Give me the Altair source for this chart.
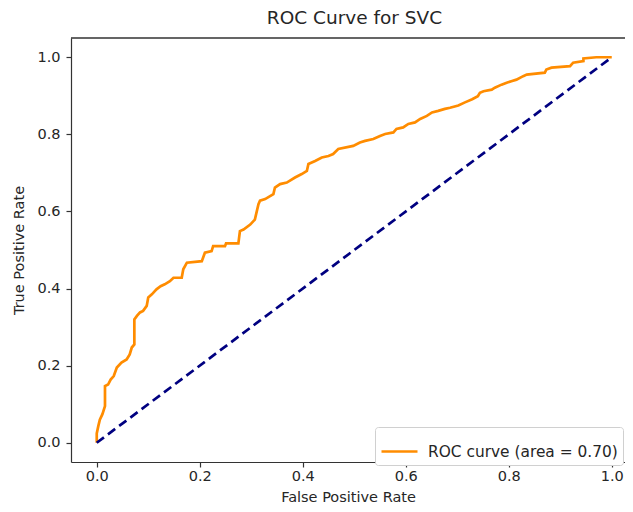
import altair as alt
import pandas as pd

# ROC curve points
fpr = [0.000, 0.000, 0.003, 0.006, 0.011, 0.016, 0.016, 0.022, 0.027, 0.033,
       0.039, 0.048, 0.058, 0.064, 0.068, 0.073, 0.073, 0.078, 0.084, 0.090,
       0.097, 0.100, 0.107, 0.116, 0.124, 0.132, 0.142, 0.149, 0.165, 0.168,
       0.175, 0.204, 0.210, 0.223, 0.226, 0.249, 0.251, 0.275, 0.278, 0.285,
       0.298, 0.307, 0.314, 0.317, 0.327, 0.343, 0.346, 0.356, 0.369, 0.385,
       0.398, 0.408, 0.411, 0.424, 0.437, 0.450, 0.459, 0.469, 0.498, 0.511,
       0.521, 0.537, 0.550, 0.560, 0.576, 0.582, 0.595, 0.605, 0.618, 0.628,
       0.641, 0.651, 0.663, 0.676, 0.686, 0.702, 0.715, 0.729, 0.740, 0.744,
       0.751, 0.767, 0.773, 0.786, 0.796, 0.805, 0.815, 0.828, 0.835, 0.870,
       0.873, 0.883, 0.919, 0.925, 0.945, 0.945, 0.970, 1.000]
tpr = [0.000, 0.024, 0.043, 0.060, 0.074, 0.095, 0.147, 0.151, 0.164, 0.173,
       0.195, 0.208, 0.216, 0.229, 0.247, 0.255, 0.320, 0.329, 0.338, 0.342,
       0.355, 0.377, 0.385, 0.398, 0.406, 0.411, 0.419, 0.428, 0.428, 0.450,
       0.467, 0.471, 0.493, 0.497, 0.510, 0.510, 0.517, 0.517, 0.549, 0.553,
       0.566, 0.579, 0.619, 0.628, 0.632, 0.645, 0.662, 0.671, 0.675, 0.688,
       0.697, 0.705, 0.723, 0.731, 0.740, 0.744, 0.749, 0.762, 0.770, 0.779,
       0.783, 0.788, 0.796, 0.801, 0.805, 0.814, 0.818, 0.827, 0.831, 0.840,
       0.848, 0.857, 0.861, 0.866, 0.869, 0.875, 0.883, 0.891, 0.899, 0.908,
       0.912, 0.916, 0.921, 0.929, 0.934, 0.938, 0.942, 0.951, 0.955, 0.960,
       0.968, 0.973, 0.977, 0.986, 0.990, 0.997, 1.000, 1.000]
series_label = "ROC curve (area = 0.70)"
diag_x = [0.0, 1.0]
diag_y = [0.0, 1.0]
tick_values = [0.0, 0.2, 0.4, 0.6, 0.8, 1.0]

roc = pd.DataFrame({"fpr": fpr, "tpr": tpr, "i": list(range(len(fpr))),
                    "series": [series_label] * len(fpr)})
diag = pd.DataFrame({"fpr": diag_x, "tpr": diag_y})

W, H = 554, 424
FONT = "DejaVu Sans"
TXT = "#262626"

xscale = alt.Scale(domain=[-0.05, -0.05 + W / 515.0], nice=False, zero=False)
yscale = alt.Scale(domain=[-0.05, 1.05], nice=False, zero=False)

xax = alt.Axis(values=tick_values, format=".1f", title="False Positive Rate",
               grid=False, tickSize=5, labelPadding=2, titleY=39,
               titleBaseline="alphabetic")
yax = alt.Axis(values=tick_values, format=".1f", title="True Positive Rate",
               grid=False, tickSize=5, labelPadding=6, titleX=-48,
               titleBaseline="alphabetic")

roc_line = alt.Chart(roc).mark_line(strokeWidth=2.7, strokeJoin="miter").encode(
    x=alt.X("fpr:Q", scale=xscale, axis=xax),
    y=alt.Y("tpr:Q", scale=yscale, axis=yax),
    order="i:Q",
    color=alt.Color("series:N",
                    scale=alt.Scale(range=["#ff8c00"]),
                    legend=alt.Legend(title=None, orient="none",
                                      legendX=304, legendY=389,
                                      symbolType="stroke", symbolSize=1296,
                                      symbolStrokeWidth=2.7,
                                      labelFont=FONT, labelFontSize=15.4,
                                      labelColor=TXT, labelOffset=9,
                                      labelLimit=400, padding=5,
                                      fillColor="white", strokeColor="#d0d0d0",
                                      cornerRadius=3)),
)

diag_line = alt.Chart(diag).mark_line(color="#000080", strokeWidth=2.7,
                                      strokeDash=[9, 5]).encode(
    x=alt.X("fpr:Q", scale=xscale),
    y=alt.Y("tpr:Q", scale=yscale),
)

top_frame = alt.Chart(diag).mark_rule(color="#333333", strokeWidth=1.2).encode(
    x=alt.value(0), x2=alt.value(W), y=alt.value(0)
)

chart = alt.layer(roc_line, diag_line, top_frame).properties(
    width=W, height=H,
    title=alt.TitleParams("ROC Curve for SVC", font=FONT, fontSize=18.5,
                          fontWeight="normal", color=TXT,
                          baseline="alphabetic", offset=10.5, dx=6.5, dy=15.5),
    autosize=alt.AutoSizeParams(type="none"),
    padding={"left": 63, "top": 30, "right": 0, "bottom": 42},
).configure_view(stroke=None).configure_axis(
    labelFont=FONT, labelFontSize=14.5, labelColor=TXT,
    titleFont=FONT, titleFontSize=14.5, titleColor=TXT, titleFontWeight="normal",
    domainColor="#333333", domainWidth=1.2, tickColor="#333333", tickWidth=1.2,
)

chart.save("out.html", embed_options={"renderer": "svg", "actions": False})
